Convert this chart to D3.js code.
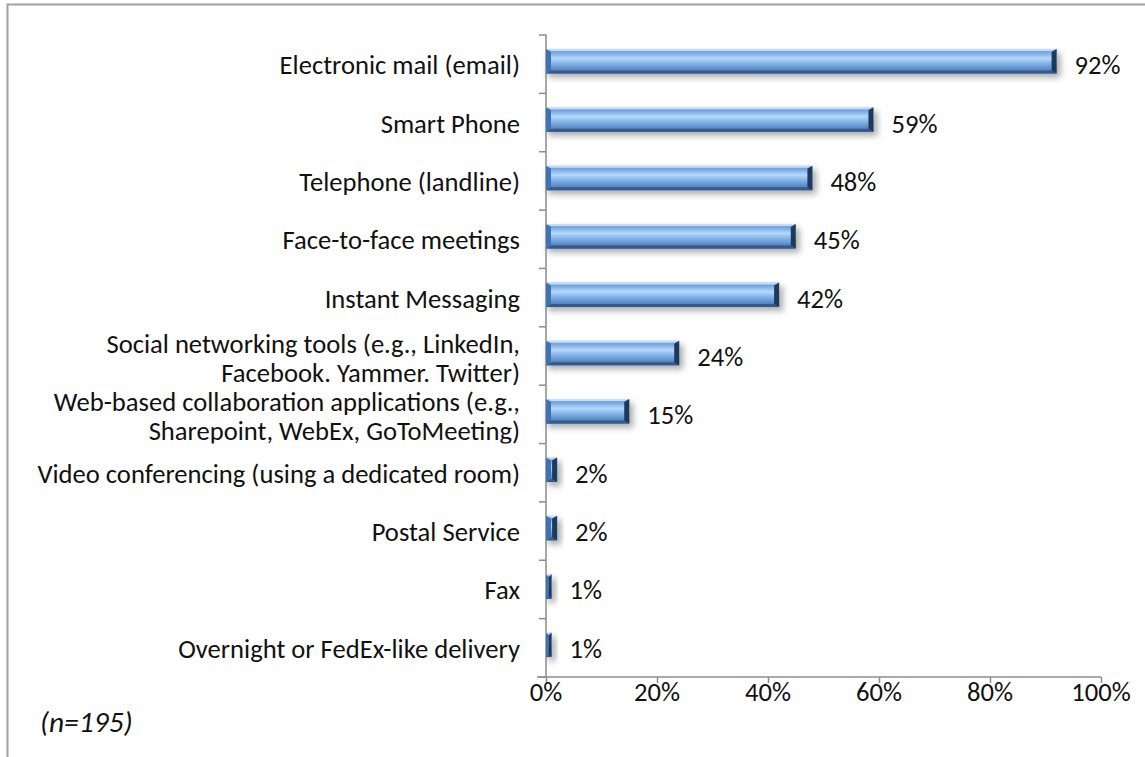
<!DOCTYPE html>
<head>
  <meta charset="utf-8">
  <script src="https://d3js.org/d3.v7.min.js"></script>
  <style>
    body { margin: 0; background: #fff; }
    text { font-family: Carlito, Lato, "Open Sans", sans-serif; fill: #111; }
    .axis path, .axis line { stroke: #8c8c8c; stroke-width: 1.5px; }
  </style>
</head>
<body>
  <script>
    // categories top to bottom, "|" marks a line break
    var categories = [
      "Electronic mail (email)",
      "Smart Phone",
      "Telephone (landline)",
      "Face-to-face meetings",
      "Instant Messaging",
      "Social networking tools (e.g., LinkedIn,|Facebook. Yammer. Twitter)",
      "Web-based collaboration applications (e.g.,|Sharepoint, WebEx, GoToMeeting)",
      "Video conferencing (using a dedicated room)",
      "Postal Service",
      "Fax",
      "Overnight or FedEx-like delivery"
    ];
    var values = [92, 59, 48, 45, 42, 24, 15, 2, 2, 1, 1];
    var tickValues = [0, 20, 40, 60, 80, 100];
    var note = "(n=195)";

    var W = 1145, H = 757;
    var fs = "26.6px";
    var svg = d3.select("body").append("svg")
      .attr("width", W)
      .attr("height", H);

    var defs = svg.append("defs");
    var grad = defs.append("linearGradient")
      .attr("id", "barGrad")
      .attr("x1", 0).attr("y1", 0).attr("x2", 0).attr("y2", 1);
    [[0, "#a9cbf0"], [0.12, "#6fa2de"], [0.38, "#b6d8f9"], [0.55, "#8bbaec"], [0.85, "#5688c4"], [1, "#3f6a9f"]]
      .forEach(function(s) { grad.append("stop").attr("offset", s[0]).attr("stop-color", s[1]); });

    var blur = defs.append("filter").attr("id", "shadow")
      .attr("x", "-20%").attr("y", "-50%").attr("width", "140%").attr("height", "200%");
    blur.append("feGaussianBlur").attr("stdDeviation", 3);

    // frame
    svg.append("rect")
      .attr("x", 7.5).attr("y", 4.5)
      .attr("width", W).attr("height", H)
      .attr("fill", "none")
      .attr("stroke", "#a0a0a0")
      .attr("stroke-width", 2);

    var x = d3.scaleLinear()
      .domain([0, 100])
      .range([546, 1101]);

    var y = d3.scaleBand()
      .domain(categories)
      .range([35, 677])
      .paddingInner(0.58)
      .paddingOuter(0.29);

    var band = d3.scaleBand().domain(categories).range([35, 677]);

    // axes
    svg.append("g")
      .attr("class", "axis")
      .attr("transform", "translate(0,677)")
      .call(d3.axisBottom(x).tickValues(tickValues).tickSize(6).tickFormat(""))
      .call(function(g) { g.select(".domain").attr("d", "M537,0H1101"); });

    svg.append("g")
      .attr("class", "axis")
      .attr("transform", "translate(546,0)")
      .call(d3.axisLeft(band).tickSize(0).tickFormat(""))
      .call(function(g) {
        g.select(".domain").attr("d", "M-7,35H0V677");
        g.selectAll(".cat-tick").data(categories).enter().append("line")
          .attr("class", "cat-tick")
          .attr("x1", -7).attr("x2", 0)
          .attr("y1", function(d) { return band(d) + band.bandwidth(); })
          .attr("y2", function(d) { return band(d) + band.bandwidth(); });
      });

    svg.selectAll(".xlab").data(tickValues).enter()
      .append("text")
      .attr("class", "xlab")
      .attr("x", function(d) { return x(d); })
      .attr("y", 701)
      .attr("text-anchor", "middle")
      .style("font-size", fs)
      .text(function(d) { return d + "%"; });

    // clip for category labels (long labels get cut at band edges)
    categories.forEach(function(c, i) {
      defs.append("clipPath").attr("id", "clip" + i)
        .append("rect")
        .attr("x", 0).attr("width", 540)
        .attr("y", band(c) + 1).attr("height", band.bandwidth() - 1);
    });

    var labels = svg.selectAll(".cat").data(categories).enter()
      .append("text")
      .attr("class", "cat")
      .attr("clip-path", function(d, i) { return "url(#clip" + i + ")"; })
      .attr("text-anchor", "end")
      .style("font-size", fs);

    labels.each(function(d) {
      var lines = d.split("|");
      var cy = band(d) + band.bandwidth() / 2;
      var t = d3.select(this);
      lines.forEach(function(l, j) {
        var off = lines.length == 1 ? 10 : (j == 0 ? -3 : 26);
        t.append("tspan")
          .attr("x", 520)
          .attr("y", cy + off)
          .text(l);
      });
    });

    var bh = y.bandwidth();
    var bars = svg.selectAll(".bar").data(values).enter()
      .append("g")
      .attr("class", "bar")
      .attr("transform", function(d, i) { return "translate(" + x(0) + "," + (y(categories[i]) - 3) + ")"; });

    // soft shadow
    bars.append("rect")
      .attr("x", 2).attr("y", 4)
      .attr("width", function(d) { return x(d) - x(0) + 2; })
      .attr("height", bh)
      .attr("fill", "#8a8a8a")
      .attr("opacity", 0.7)
      .attr("filter", "url(#shadow)");

    bars.append("rect")
      .attr("width", function(d) { return x(d) - x(0); })
      .attr("height", bh)
      .attr("fill", "url(#barGrad)");

    // bevel edges
    function bev(w) { return Math.min(5, w / 2); }
    bars.append("path")
      .attr("fill", "#cfe3f8")
      .attr("opacity", 0.8)
      .attr("d", function(d) { var w = x(d) - x(0), b = bev(w);
        return "M0,0H" + w + "L" + (w - b) + ",2H" + b + "Z"; });
    bars.append("path")
      .attr("fill", "#34598a")
      .attr("d", function(d) { var w = x(d) - x(0), b = bev(w);
        return "M0," + bh + "H" + w + "L" + (w - b) + "," + (bh - 3) + "H" + b + "Z"; });
    bars.append("path")
      .attr("fill", "#3f72b3")
      .attr("d", function(d) { var w = x(d) - x(0), b = bev(w);
        return "M0,0L" + b + ",3V" + (bh - 3) + "L0," + bh + "Z"; });
    bars.append("path")
      .attr("fill", "#1d3a5e")
      .attr("d", function(d) { var w = x(d) - x(0), b = bev(w);
        return "M" + w + ",0L" + (w - b) + ",3V" + (bh - 3) + "L" + w + "," + bh + "Z"; });

    svg.selectAll(".val").data(values).enter()
      .append("text")
      .attr("class", "val")
      .attr("x", function(d) { return x(d) + 18; })
      .attr("y", function(d, i) { return band(categories[i]) + band.bandwidth() / 2 + 10; })
      .style("font-size", fs)
      .text(function(d) { return d + "%"; });

    svg.append("text")
      .attr("x", 40)
      .attr("y", 732)
      .style("font-size", "29.5px")
      .style("font-style", "italic")
      .text(note);
  </script>
</body>
